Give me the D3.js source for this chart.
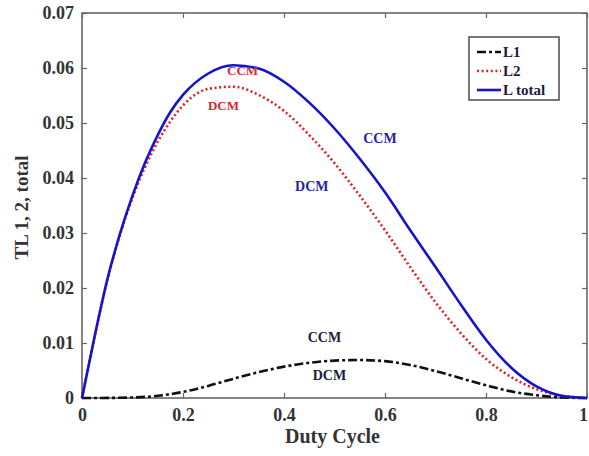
<!DOCTYPE html>
<html>
<head>
<meta charset="utf-8">
<script src="https://cdn.jsdelivr.net/npm/d3@7"></script>
<style>
  body { margin: 0; background: #fff; }
  svg text { font-family: "Liberation Serif", "Times New Roman", serif; font-weight: bold; }
</style>
</head>
<body>
<div id="chart"></div>
<script>
// duty cycle samples
var duty = [0, 0.025, 0.05, 0.075, 0.1, 0.125, 0.15, 0.175, 0.2, 0.25, 0.3, 0.35, 0.4, 0.45, 0.5, 0.55, 0.6, 0.65, 0.7, 0.75, 0.8, 0.85, 0.9, 0.95, 1];
var l1 = [0, 0, 0.00002, 0.00004, 0.0001, 0.0002, 0.0004, 0.0007, 0.0011, 0.0022, 0.0035, 0.0047, 0.0057, 0.0064, 0.0068, 0.0069, 0.0067, 0.006, 0.0049, 0.0036, 0.0023, 0.0012, 0.0005, 0.0001, 0];
var l2 = [0, 0.0112, 0.0214, 0.0296, 0.0364, 0.042, 0.0466, 0.0503, 0.0532, 0.0562, 0.0566, 0.0551, 0.0522, 0.0478, 0.0427, 0.0368, 0.0305, 0.0238, 0.0174, 0.0118, 0.0071, 0.0038, 0.0016, 0.0004, 0];
var ltotal = [0, 0.0112, 0.0215, 0.0298, 0.0368, 0.0428, 0.0478, 0.052, 0.0551, 0.059, 0.0605, 0.0599, 0.0575, 0.0537, 0.049, 0.0435, 0.0374, 0.0305, 0.0238, 0.017, 0.0106, 0.0055, 0.0021, 0.0004, 0];

var xTicks = [0, 0.2, 0.4, 0.6, 0.8, 1];
var xTickLabels = ["0", "0.2", "0.4", "0.6", "0.8", "1"];
var yTicks = [0, 0.01, 0.02, 0.03, 0.04, 0.05, 0.06, 0.07];
var yTickLabels = ["0", "0.01", "0.02", "0.03", "0.04", "0.05", "0.06", "0.07"];

var seriesNames = ["L1", "L2", "L total"];

// mode annotations [text, duty, value, colour]
var notes = [
  ["CCM", 0.318, 0.0587, "#d42a2a"],
  ["DCM", 0.28, 0.0523, "#d42a2a"],
  ["CCM", 0.59, 0.0463, "#2424a8"],
  ["DCM", 0.455, 0.0376, "#2424a8"],
  ["CCM", 0.48, 0.0101, "#1c1c3c"],
  ["DCM", 0.49, 0.0033, "#1c1c3c"]
];

var W = 589, H = 456;
var margin = { top: 13, right: 2, bottom: 58, left: 82 };

var svg = d3.select("#chart").append("svg")
  .attr("width", W)
  .attr("height", H);

var x = d3.scaleLinear().domain([0, 1]).range([margin.left, W - margin.right]);
var y = d3.scaleLinear().domain([0, 0.07]).range([H - margin.bottom, margin.top]);

// axes, ticks pointing in, boxed like matlab
var axColor = "#666";
function styleAxis(g) {
  g.select(".domain").remove();
  g.selectAll(".tick line").attr("stroke", axColor).attr("stroke-width", 1.2);
  g.selectAll(".tick text").attr("fill", "#333").style("font-size", "18px");
}

svg.append("g")
  .attr("transform", "translate(0," + y(0) + ")")
  .call(d3.axisBottom(x).tickValues(xTicks).tickSize(-5).tickPadding(10)
    .tickFormat(function(d, i) { return xTickLabels[i]; }))
  .call(styleAxis)
  .selectAll(".tick text").attr("dx", function(d) { return d == 1 ? -4 : 0; });

svg.append("g")
  .attr("transform", "translate(0," + y(0.07) + ")")
  .call(d3.axisTop(x).tickValues(xTicks).tickSize(-5).tickFormat(""))
  .call(styleAxis);

svg.append("g")
  .attr("transform", "translate(" + x(0) + ",0)")
  .call(d3.axisLeft(y).tickValues(yTicks).tickSize(-5).tickPadding(8)
    .tickFormat(function(d, i) { return yTickLabels[i]; }))
  .call(styleAxis);

svg.append("g")
  .attr("transform", "translate(" + x(1) + ",0)")
  .call(d3.axisRight(y).tickValues(yTicks).tickSize(-5).tickFormat(""))
  .call(styleAxis);

svg.append("rect")
  .attr("x", x(0)).attr("y", y(0.07))
  .attr("width", x(1) - x(0)).attr("height", y(0) - y(0.07))
  .attr("fill", "none").attr("stroke", axColor).attr("stroke-width", 1.6);

// axis titles
svg.append("text")
  .attr("x", (x(0) + x(1)) / 2 - 2).attr("y", 443)
  .attr("text-anchor", "middle").attr("fill", "#333")
  .style("font-size", "20px")
  .text("Duty Cycle");

svg.append("text")
  .attr("transform", "translate(28," + (y(0.035) + 2) + ") rotate(-90)")
  .attr("text-anchor", "middle").attr("fill", "#333")
  .style("font-size", "19px")
  .text("TL 1, 2, total");

// curves
var line = function(vals) {
  return d3.line()
    .x(function(d, i) { return x(duty[i]); })
    .y(function(d) { return y(d); })
    .curve(d3.curveMonotoneX)(vals);
};

var styles = [
  { data: l1, color: "#111", dash: "9,3,3,3", width: 2.6 },
  { data: l2, color: "#e41e1e", dash: "2,2.6", width: 2.6 },
  { data: ltotal, color: "#1414c8", dash: null, width: 2.6 }
];

styles.forEach(function(s) {
  svg.append("path")
    .attr("d", line(s.data))
    .attr("fill", "none")
    .attr("stroke", s.color)
    .attr("stroke-width", s.width)
    .attr("stroke-dasharray", s.dash);
});

// CCM / DCM notes
notes.forEach(function(n) {
  svg.append("text")
    .attr("x", x(n[1])).attr("y", y(n[2]))
    .attr("text-anchor", "middle")
    .attr("fill", n[3])
    .style("font-size", n[3] == "#d42a2a" ? "13px" : "14px")
    .text(n[0]);
});

// legend
var lg = svg.append("g").attr("transform", "translate(469,37)");
lg.append("rect")
  .attr("width", 90).attr("height", 63)
  .attr("fill", "#fff").attr("stroke", "#555").attr("stroke-width", 1.6);
styles.forEach(function(s, i) {
  var yy = 15 + i * 19;
  lg.append("line")
    .attr("x1", 8).attr("x2", 32).attr("y1", yy).attr("y2", yy)
    .attr("stroke", s.color).attr("stroke-width", s.width)
    .attr("stroke-dasharray", s.dash);
  lg.append("text")
    .attr("x", 34).attr("y", yy + 5)
    .attr("fill", "#1c1c3c")
    .style("font-size", "15px")
    .text(seriesNames[i]);
});
</script>
</body>
</html>
